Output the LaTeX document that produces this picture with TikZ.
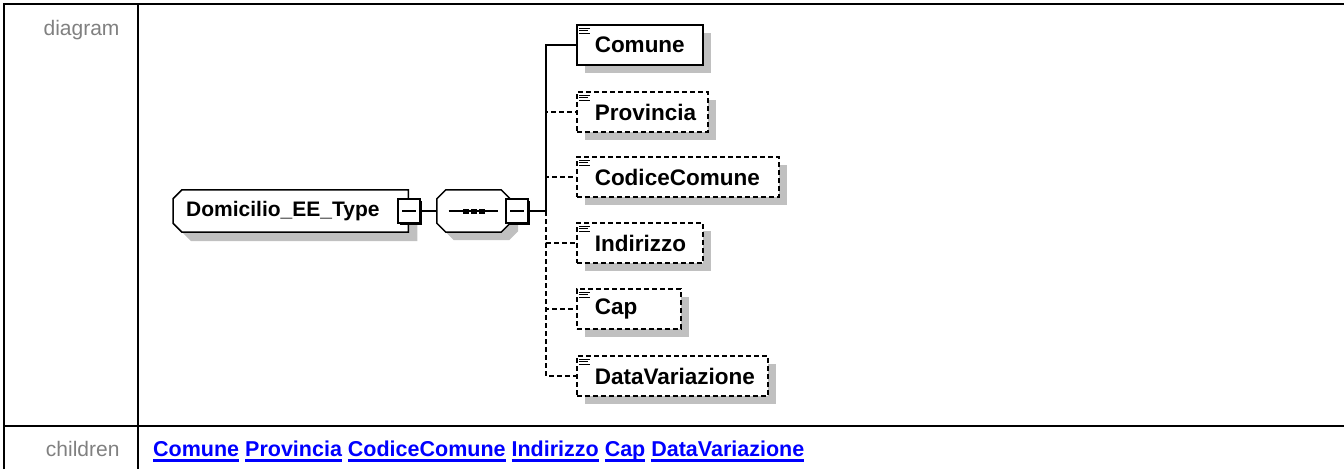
\documentclass[tikz,border=0pt]{standalone}
\usepackage{fontspec}
\setmainfont{Liberation Sans}
\newcommand{\ulink}[1]{\setbox0\hbox{#1}\rlap{\rule[-5.5pt]{\wd0}{3pt}}\box0\relax}
\usetikzlibrary{shadows,backgrounds}
\definecolor{shadowgray}{HTML}{C0C0C0}
\definecolor{labelgray}{HTML}{808080}
\definecolor{linkblue}{HTML}{0000FF}
\begin{document}
\begin{tikzpicture}[x=1pt, y=-1pt,
  every node/.style={font=\fontsize{22.5}{26}\selectfont\bfseries},
  greyshadow/.style={drop shadow={shadow xshift=#1, shadow yshift=-#1, fill=shadowgray, opacity=1}},
  box/.style={draw, fill=white, line width=1.5pt, minimum height=40pt,
    inner xsep=18pt, align=left, anchor=west, greyshadow=8pt},
  optional/.style={box, dash pattern=on 5pt off 3pt},
  minus/.style={draw, fill=white, line width=1.2pt, minimum width=22pt,
    minimum height=24pt, inner sep=0pt,
    drop shadow={shadow xshift=2pt, shadow yshift=-2pt, fill=black, opacity=1}},
  tag/.style={font=\fontsize{21}{25}\selectfont, text=labelgray, anchor=base east},
  link/.style={line width=1.5pt}]
  \useasboundingbox (0,0) rectangle (1344,469);
  % table frame
  \draw[line width=2.2pt] (4,469) -- (4,4) -- (1344,4);
  \draw[line width=2.2pt] (138,4) -- (138,469);
  \draw[line width=2.2pt] (4,426) -- (1344,426);
  \node[tag] (diagramtag) at (123,35) {diagram};
  \node[tag] (childrentag) at (123,456) {children};
  \node[anchor=base west, inner sep=0pt, text=linkblue,
    font=\fontsize{21.5}{25}\selectfont\bfseries] (childlist) at (153,456)
    {\ulink{Comune} \ulink{Provincia} \ulink{CodiceComune} \ulink{Indirizzo} \ulink{Cap} \ulink{DataVariazione}};

  % complex type and sequence
  \node[font=\fontsize{21}{25}\selectfont\bfseries, minimum height=42pt, inner xsep=13pt,
    text width=209pt, align=left, anchor=west] (domicilio) at (173,211) {Domicilio\_EE\_Type};
  \node[minimum width=73pt, minimum height=42pt, inner sep=0pt] (seq) at (473.5,211) {};
  \begin{scope}[on background layer]
    \filldraw[fill=white, line width=1.5pt, greyshadow=9pt]
      ([xshift=9pt]domicilio.north west) -- (domicilio.north east) -- (domicilio.south east)
      -- ([xshift=9pt]domicilio.south west) -- ([yshift=9pt]domicilio.south west)
      -- ([yshift=-9pt]domicilio.north west) -- cycle;
    \filldraw[fill=white, line width=1.5pt, greyshadow=8pt]
      ([xshift=9pt]seq.north west) -- ([xshift=-9pt]seq.north east)
      -- ([yshift=-9pt]seq.north east) -- ([yshift=9pt]seq.south east)
      -- ([xshift=-9pt]seq.south east) -- ([xshift=9pt]seq.south west)
      -- ([yshift=9pt]seq.south west) -- ([yshift=-9pt]seq.north west) -- cycle;
  \end{scope}
  \node[minus] (rootminus) at (409,211) {};
  \node[minus] (seqminus) at (517,211) {};
  \draw[line width=1.2pt] ([xshift=-7pt]rootminus.center) -- ([xshift=7pt]rootminus.center);
  \draw[line width=1.2pt] ([xshift=-7pt]seqminus.center) -- ([xshift=7pt]seqminus.center);
  \draw[line width=1.5pt] ([xshift=-25pt]seq.center) -- ([xshift=24pt]seq.center);
  \foreach \dx in {-11,-3,5}
    \fill ([shift={(\dx,-2.5)}]seq.center) rectangle ++(6,5);

  % children
  \node[box, text width=90pt] (comune) at (576,45) {Comune};
  \node[optional, text width=95pt] (provincia) at (576,112) {Provincia};
  \node[optional, text width=166pt] (codice) at (576,177) {CodiceComune};
  \node[optional, text width=90pt] (indirizzo) at (576,243) {Indirizzo};
  \node[optional, text width=68pt] (cap) at (576,309) {Cap};
  \node[optional, text width=155pt] (datavar) at (576,376) {DataVariazione};
  \foreach \n in {comune,provincia,codice,indirizzo,cap,datavar}
    \foreach \dy/\len in {4/11,6.5/9,9/11}
      \draw[line width=1.2pt] ([shift={(3,\dy)}]\n.north west) -- ++(\len,0);

  % connectors
  \coordinate (split) at (546,211);
  \draw[link] (rootminus.east) -- (seq.west);
  \draw[link] (seqminus.east) -- (split);
  \foreach \n in {provincia,codice,indirizzo,cap,datavar}
    \draw[link, dash pattern=on 5pt off 3pt] (split) |- (\n.west);
  \draw[link] (split) |- (comune.west);
\end{tikzpicture}
\end{document}
